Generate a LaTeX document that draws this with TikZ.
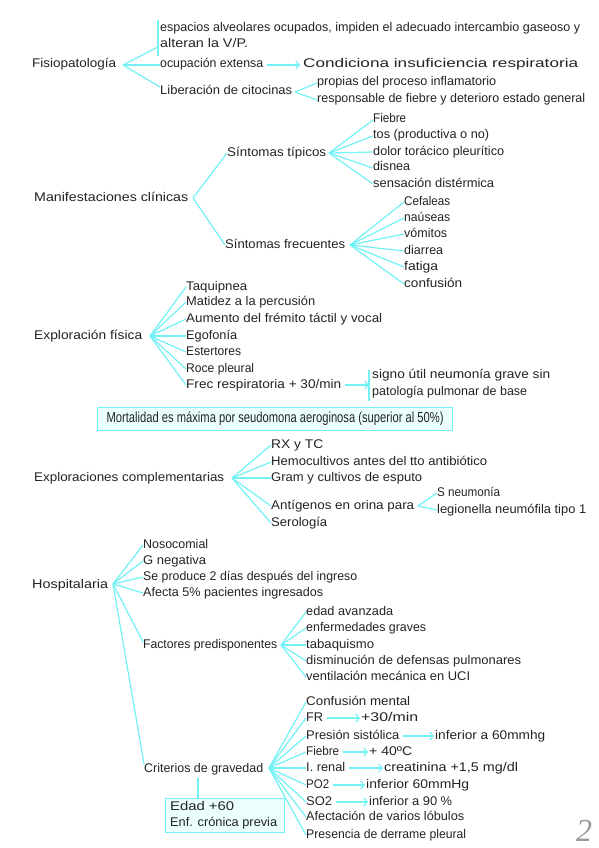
\documentclass[tikz,border=0pt]{standalone}
\usepackage{fontspec}
\usepackage{graphicx}
\setmainfont{Liberation Sans}
\newfontfamily\twofont{Liberation Serif}
\usetikzlibrary{arrows.meta}
\definecolor{cy}{RGB}{115,242,245}
\definecolor{boxfill}{RGB}{236,255,255}
\definecolor{ink}{RGB}{35,35,35}
\newcommand{\hw}{\fontsize{12.6}{14}\selectfont}
\newcommand{\tx}[5]{\pgfmathsetmacro\mytw{#3-#2}\node[hwtext] (#1) at (#2,#4) {\resizebox{\mytw pt}{\height}{#5}};}
\begin{document}
\begin{tikzpicture}[x=1pt,y=-1pt,
 hwtext/.style={anchor=west, inner sep=0pt, font=\hw, text=ink, text height=9pt, text depth=3pt},
 ln/.style={draw=cy, line width=1.2pt},
 arr/.style={ln, -{Straight Barb[length=3.5pt,width=8pt]}},
 bx/.style={draw=cy, fill=boxfill, line width=1.2pt, inner sep=0pt}]
\useasboundingbox (0,0) rectangle (599,848);

% ---------- Fisiopatologia
\tx{fis}{32}{116}{65}{Fisiopatología}
\coordinate (f1) at (123,65);
\coordinate (bt) at (158,20); \coordinate (bb) at (158,56); \coordinate (bj) at (158,47);
\draw[ln] (bt) -- (bb);
\draw[ln] (f1) -- (bj);
\tx{esp}{160}{580}{29}{espacios alveolares ocupados, impiden el adecuado intercambio gaseoso y}
\tx{alt}{160}{248}{45}{alteran la V/P.}
\tx{ocu}{160}{263}{65}{ocupación extensa}
\tx{cond}{303}{578}{65}{Condiciona insuficiencia respiratoria}
\tx{lib}{160}{292}{92}{Liberación de citocinas}
\draw[ln] (f1) -- (ocu.west);
\draw[ln] (f1) -- ([yshift=5pt]lib.west);
\draw[arr] ([xshift=4pt]ocu.east) -- ([xshift=-3pt]cond.west);
\coordinate (f2) at (295,92);
\tx{prop}{317}{496}{83}{propias del proceso inflamatorio}
\tx{resp}{317}{585}{100}{responsable de fiebre y deterioro estado general}
\draw[ln] (f2) -- (prop.west);
\draw[ln] (f2) -- (resp.west);

% ---------- Manifestaciones
\tx{man}{34}{188}{198}{Manifestaciones clínicas}
\coordinate (f3) at (193,198);
\tx{tip}{227}{326}{153}{Síntomas típicos}
\tx{fre}{225}{345}{245}{Síntomas frecuentes}
\draw[ln] (f3) -- (tip.west);
\draw[ln] (f3) -- (fre.west);
\coordinate (f4) at (329,153);
\tx{fiea}{373}{406}{120}{Fiebre}
\tx{tos}{373}{489}{136}{tos (productiva o no)}
\tx{dol}{373}{504}{152}{dolor torácico pleurítico}
\tx{dis}{373}{410}{168}{disnea}
\tx{sen}{373}{494}{184}{sensación distérmica}
\foreach \n in {fiea,tos,dol,dis,sen} \draw[ln] (f4) -- (\n.west);
\coordinate (f5) at (350,245);
\tx{cef}{404}{450}{202}{Cefaleas}
\tx{nau}{404}{450}{218}{naúseas}
\tx{vom}{404}{447}{234}{vómitos}
\tx{dia}{404}{443}{251}{diarrea}
\tx{fat}{404}{438}{267}{fatiga}
\tx{conf}{404}{462}{284}{confusión}
\foreach \n in {cef,nau,vom,dia,fat,conf} \draw[ln] (f5) -- (\n.west);

% ---------- Exploracion fisica
\tx{exf}{34}{142}{336}{Exploración física}
\coordinate (f6) at (150,336);
\tx{taq}{186}{247}{287}{Taquipnea}
\tx{mat}{186}{315}{302}{Matidez a la percusión}
\tx{aum}{186}{382}{319}{Aumento del frémito táctil y vocal}
\tx{ego}{186}{237}{336}{Egofonía}
\tx{est}{186}{241}{352}{Estertores}
\tx{roc}{186}{254}{369}{Roce pleural}
\tx{frec}{186}{341}{385}{Frec respiratoria + 30/min}
\foreach \n in {taq,mat,aum,ego,est,roc,frec} \draw[ln] (f6) -- (\n.west);
\coordinate (s1) at (369,370); \coordinate (s2) at (369,401); \coordinate (sj) at (369,386);
\draw[ln] (s1) -- (s2);
\draw[arr] ([xshift=4pt]frec.east) -- (frec.east -| sj);
\tx{signo}{372}{550}{375}{signo útil neumonía grave sin}
\tx{pat}{372}{527}{392}{patología pulmonar de base}

\node[bx, anchor=north west, minimum width=355pt, minimum height=23pt, text=ink,
  font=\fontsize{14.5}{16}\selectfont] (mort) at (97,407)
  {\resizebox{337pt}{\height}{Mortalidad es máxima por seudomona aeroginosa (superior al 50\%)}};

% ---------- Exploraciones complementarias
\tx{exc}{34}{224}{478}{Exploraciones complementarias}
\coordinate (f7) at (232,478);
\tx{rx}{271}{323}{445}{RX y TC}
\tx{hem}{271}{487}{462}{Hemocultivos antes del tto antibiótico}
\tx{gram}{271}{422}{478}{Gram y cultivos de esputo}
\tx{ant}{271}{414}{506}{Antígenos en orina para}
\tx{ser}{271}{327}{523}{Serología}
\foreach \n in {rx,hem,gram,ant,ser} \draw[ln] (f7) -- (\n.west);
\coordinate (f8) at (418,506);
\tx{sneu}{437}{500}{493}{S neumonía}
\tx{leg}{437}{586}{510}{legionella neumófila tipo 1}
\draw[ln] (f8) -- (sneu.west);
\draw[ln] (f8) -- (leg.west);

% ---------- Hospitalaria
\tx{hos}{32}{108}{585}{Hospitalaria}
\coordinate (f9) at (113,584);
\tx{nos}{143}{208}{545}{Nosocomial}
\tx{gne}{143}{206}{561}{G negativa}
\tx{sep}{143}{357}{577}{Se produce 2 días después del ingreso}
\tx{afe}{143}{323}{593}{Afecta 5\% pacientes ingresados}
\tx{fac}{143}{277}{645}{Factores predisponentes}
\tx{crit}{144}{263}{769}{Criterios de gravedad}
\foreach \n in {nos,gne,sep,afe} \draw[ln] (f9) -- (\n.west);
\draw[ln] (f9) -- ([yshift=3pt]fac.west);
\draw[ln] (f9) -- ([yshift=5pt]crit.west);
\coordinate (f10) at (281,645);
\tx{eda}{306}{393}{612}{edad avanzada}
\tx{enf}{306}{426}{628}{enfermedades graves}
\tx{tab}{306}{374}{645}{tabaquismo}
\tx{dism}{306}{521}{661}{disminución de defensas pulmonares}
\tx{ven}{306}{470}{677}{ventilación mecánica en UCI}
\foreach \n in {eda,enf,tab,dism,ven} \draw[ln] (f10) -- (\n.west);
\coordinate (f11) at (269,768);
\tx{cm}{306}{410}{702}{Confusión mental}
\tx{fr}{306}{323}{718}{FR}
\tx{ps}{306}{399}{736}{Presión sistólica}
\tx{fb}{306}{339}{752}{Fiebre}
\tx{ir}{306}{345}{768}{I. renal}
\tx{po}{306}{329}{785}{PO2}
\tx{so}{306}{332}{802}{SO2}
\tx{afv}{306}{464}{817}{Afectación de varios lóbulos}
\tx{pre}{306}{466}{835}{Presencia de derrame pleural}
\foreach \n in {cm,fr,ps,fb,ir,po,so,afv,pre} \draw[ln] (f11) -- (\n.west);
\tx{frv}{361}{418}{718}{+30/min}
\tx{psv}{435}{545}{736}{inferior a 60mmhg}
\tx{fbv}{369}{412}{752}{+ 40ºC}
\tx{irv}{384}{518}{768}{creatinina +1,5 mg/dl}
\tx{pov}{366}{469}{785}{inferior 60mmHg}
\tx{sov}{369}{452}{802}{inferior a 90 \%}
\draw[arr] ([xshift=4pt]fr.east) -- ([xshift=-1pt]frv.west);
\draw[arr] ([xshift=4pt]ps.east) -- ([xshift=-1pt]psv.west);
\draw[arr] ([xshift=4pt]fb.east) -- ([xshift=-1pt]fbv.west);
\draw[arr] ([xshift=4pt]ir.east) -- ([xshift=-1pt]irv.west);
\draw[arr] ([xshift=4pt]po.east) -- ([xshift=-1pt]pov.west);
\draw[arr] ([xshift=4pt]so.east) -- ([xshift=-1pt]sov.west);

\node[bx, anchor=north west, minimum width=119pt, minimum height=34pt] (ebox) at (165,798) {};
\tx{eda2}{170}{234}{807}{Edad +60}
\tx{ecp}{170}{277}{823}{Enf. crónica previa}
\coordinate (etop) at (198,778);
\draw[ln] (etop) -- (etop |- ebox.north);

\node[inner sep=0pt, text=gray!80, font=\twofont\itshape\fontsize{32}{32}\selectfont] (pg) at (584,831) {2};
\end{tikzpicture}
\end{document}
